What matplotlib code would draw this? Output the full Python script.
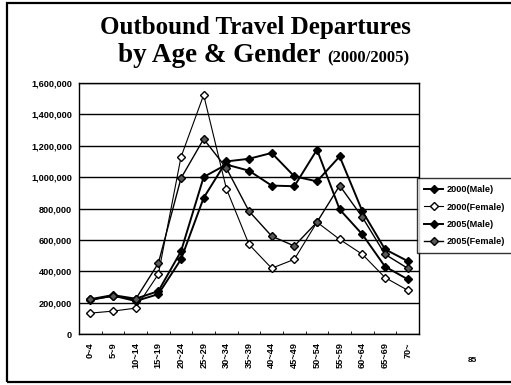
import numpy as np
import matplotlib.pyplot as plt
from matplotlib.patches import Rectangle
from matplotlib.ticker import FuncFormatter

# Age groups and departures per group
ages = ["0~4", "5~9", "10~14", "15~19", "20~24", "25~29", "30~34", "35~39",
        "40~44", "45~49", "50~54", "55~59", "60~64", "65~69", "70~"]
male_2000 = [222000, 248000, 225000, 273000, 527000, 1001000, 1080000, 1041000,
             946000, 942000, 1175000, 794000, 635000, 430000, 349000]
female_2000 = [133000, 146000, 165000, 381000, 1128000, 1524000, 927000, 571000,
               419000, 476000, 713000, 603000, 508000, 360000, 279000]
male_2005 = [216000, 245000, 210000, 254000, 476000, 868000, 1100000, 1117000,
             1154000, 1005000, 973000, 1132000, 783000, 540000, 465000]
female_2005 = [220000, 240000, 222000, 451000, 993000, 1243000, 1058000, 783000,
               624000, 561000, 713000, 946000, 745000, 508000, 419000]
yticks = [0, 200000, 400000, 600000, 800000, 1000000, 1200000, 1400000, 1600000]

W, H = 511, 385
fig = plt.figure(figsize=(W / 100, H / 100), dpi=100)
fig.patch.set_facecolor("white")

# outer page frame
fig.patches.append(Rectangle((7 / W, 3 / H), 1.2, 1 - 6 / H, transform=fig.transFigure,
                             fill=False, lw=1.6, ec="black"))

ax = fig.add_axes([79 / W, 1 - 334 / H, (419 - 79) / W, (334 - 83) / H])
x = np.arange(len(ages))

ax.plot(x, male_2000, "-", color="black", lw=1.4, marker="D", ms=4.0,
        mfc="black", mec="black", label="2000(Male)")
ax.plot(x, female_2000, "-", color="black", lw=0.8, marker="D", ms=4.0,
        mfc="white", mec="black", mew=1.0, label="2000(Female)")
ax.plot(x, male_2005, "-", color="black", lw=1.4, marker="D", ms=4.0,
        mfc="black", mec="black", label="2005(Male)")
ax.plot(x, female_2005, "-", color="black", lw=1.0, marker="D", ms=4.0,
        mfc="0.35", mec="black", mew=1.0, label="2005(Female)")

ax.set_xlim(-0.5, len(ages) - 0.5)
ax.set_ylim(0, 1600000)
ax.set_yticks(yticks)
ax.yaxis.set_major_formatter(FuncFormatter(lambda v, p: f"{int(v):,}"))
ax.yaxis.grid(True, color="black", lw=1.0)
ax.set_axisbelow(True)

ax.set_xticks(x)
ax.set_xticklabels(ages, rotation=90)
ax.set_xticks(np.arange(len(ages) + 1) - 0.5, minor=True)
ax.tick_params(axis="x", which="major", length=0, pad=6)
ax.tick_params(axis="x", which="minor", length=2.5, direction="in")
ax.tick_params(axis="y", length=0, pad=5)
for lab in ax.get_xticklabels() + ax.get_yticklabels():
    lab.set_fontsize(6.6)
    lab.set_fontweight("bold")
    lab.set_family("Liberation Sans")
for sp in ax.spines.values():
    sp.set_linewidth(1.0)

leg = ax.legend(loc="upper left", bbox_to_anchor=(417 / W, 1 - 178 / H),
                bbox_transform=fig.transFigure, frameon=True, fancybox=False,
                prop={"family": "Liberation Sans", "weight": "bold", "size": 6.6},
                handlelength=2.0, labelspacing=0.9, borderpad=0.8,
                handletextpad=0.4, borderaxespad=0)
leg.get_frame().set_edgecolor("black")
leg.get_frame().set_linewidth(1.0)

# title, two lines with the years set smaller
fig.text(0.5, 1 - 34 / H, "Outbound Travel Departures", ha="center",
         va="baseline", family="Liberation Serif", weight="bold", fontsize=18)
t2 = fig.text(118 / W, 1 - 62 / H, "by Age & Gender", ha="left", va="baseline",
              family="Liberation Serif", weight="bold", fontsize=19.5)
renderer = fig.canvas.get_renderer()
x_end = t2.get_window_extent(renderer).x1
fig.text((x_end + 7) / W, 1 - 62 / H, "(2000/2005)", ha="left", va="baseline",
         family="Liberation Serif", weight="bold", fontsize=12)

fig.text(472 / W, 1 - 362 / H, "85", ha="center", family="Liberation Sans",
         weight="bold", fontsize=6)

fig.savefig("out.png", dpi=100)
